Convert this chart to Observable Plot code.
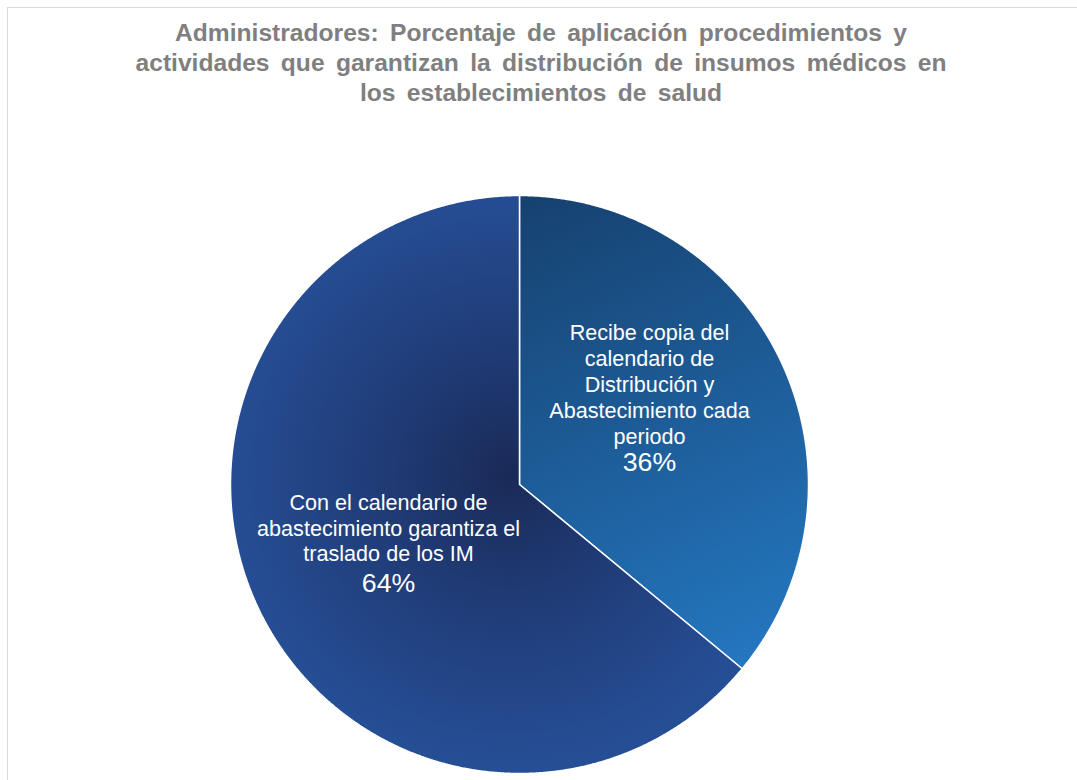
<!DOCTYPE html>
<html><head><meta charset="utf-8">
<script src="https://cdn.jsdelivr.net/npm/d3@7"></script>
<script src="https://cdn.jsdelivr.net/npm/@observablehq/plot@0.6"></script>
<style>
html,body{margin:0;padding:0;background:#fff;overflow:hidden;}
#frame{position:absolute;left:7px;top:7px;width:1100px;height:800px;border-left:1.5px solid #d9d9d9;border-top:1.5px solid #d9d9d9;}
#title{position:absolute;left:0;top:18px;width:1082px;text-align:center;font:bold 24.6px "Liberation Sans",Arial,sans-serif;color:#7f7f7f;line-height:30px;word-spacing:4.5px;}
#chart{position:absolute;left:0;top:150px;}
</style></head><body>
<div id="frame"></div>
<div id="title">Administradores: Porcentaje de aplicación procedimientos y<br>actividades que garantizan la distribución de insumos médicos en<br>los establecimientos de salud</div>
<div id="chart"></div>
<script>
const categories = [
  "Recibe copia del calendario de Distribución y Abastecimiento cada periodo",
  "Con el calendario de abastecimiento garantiza el traslado de los IM"
];
const labelLines = [
  ["Recibe copia del", "calendario de", "Distribución y", "Abastecimiento cada", "periodo"],
  ["Con el calendario de", "abastecimiento garantiza el", "traslado de los IM"]
];
const values = [36, 64];
const pctLabels = ["36%", "64%"];
const fills = ["url(#gRight)", "url(#gLeft)"];

const arcs = d3.pie().sort(null).value(d => d)(values);

function slicePoints(a) {
  const pts = [{x: 0, y: 0}];
  const n = Math.ceil((a.endAngle - a.startAngle) / (Math.PI / 720));
  for (let i = 0; i <= n; i++) {
    const t = a.startAngle + (a.endAngle - a.startAngle) * i / n;
    pts.push({x: Math.sin(t), y: Math.cos(t)});
  }
  pts.push({x: 0, y: 0});
  return pts;
}

const labelR = 0.52;
const labels = arcs.map((a, i) => {
  const m = (a.startAngle + a.endAngle) / 2;
  return {x: Math.sin(m) * labelR, y: Math.cos(m) * labelR, name: labelLines[i].join("\n"), pct: pctLabels[i], cat: categories[i]};
});

// per-slice label nudges (pixels), like Excel's best-fit placement
const nudge = [{dx: -6, dyName: 23, dyPct: 32}, {dx: 5, dyName: 13, dyPct: 25}];

function gradients(index, scales) {
  const cx = scales.x(0), cy = scales.y(0), r = scales.x(1) - scales.x(0);
  const defs = d3.create("svg:defs");
  const lg = defs.append("linearGradient").attr("id", "gRight")
    .attr("gradientUnits", "userSpaceOnUse")
    .attr("x1", cx).attr("y1", cy - r)
    .attr("x2", cx + 0.75 * r).attr("y2", cy + 0.65 * r);
  lg.append("stop").attr("offset", 0).attr("stop-color", "#16416f");
  lg.append("stop").attr("offset", 1).attr("stop-color", "#2477c0");
  const rg = defs.append("radialGradient").attr("id", "gLeft")
    .attr("gradientUnits", "userSpaceOnUse")
    .attr("cx", cx - 10).attr("cy", cy - 10).attr("r", r);
  rg.append("stop").attr("offset", 0).attr("stop-color", "#1a2a57");
  rg.append("stop").attr("offset", 0.4).attr("stop-color", "#1f3a74");
  rg.append("stop").attr("offset", 1).attr("stop-color", "#264e95");
  return defs.node();
}

const R = 289, CX = 519, CY = 334;
const chart = Plot.plot({
  width: 1077,
  height: 630,
  margin: 0,
  x: {domain: [-1, 1], range: [CX - R, CX + R], axis: null},
  y: {domain: [-1, 1], range: [CY + R, CY - R], axis: null},
  style: {background: "transparent", fontFamily: "'Liberation Sans', Arial, sans-serif"},
  marks: [
    gradients,
    ...arcs.map((a, i) => Plot.line(slicePoints(a), {
      x: "x", y: "y", fill: fills[i], stroke: "white", strokeWidth: 1.5, strokeLinejoin: "miter", curve: "linear"
    })),
    ...labels.map((d, i) => Plot.text([d], {
      x: "x", y: "y", text: "name", fill: "white", fontSize: 21.6, lineHeight: 1.2,
      lineAnchor: "bottom", dx: nudge[i].dx, dy: nudge[i].dyName
    })),
    ...labels.map((d, i) => Plot.text([d], {
      x: "x", y: "y", text: "pct", fill: "white", fontSize: 26.7,
      lineAnchor: "top", dx: nudge[i].dx, dy: nudge[i].dyPct
    }))
  ]
});
document.getElementById("chart").appendChild(chart);
</script>
</body></html>
